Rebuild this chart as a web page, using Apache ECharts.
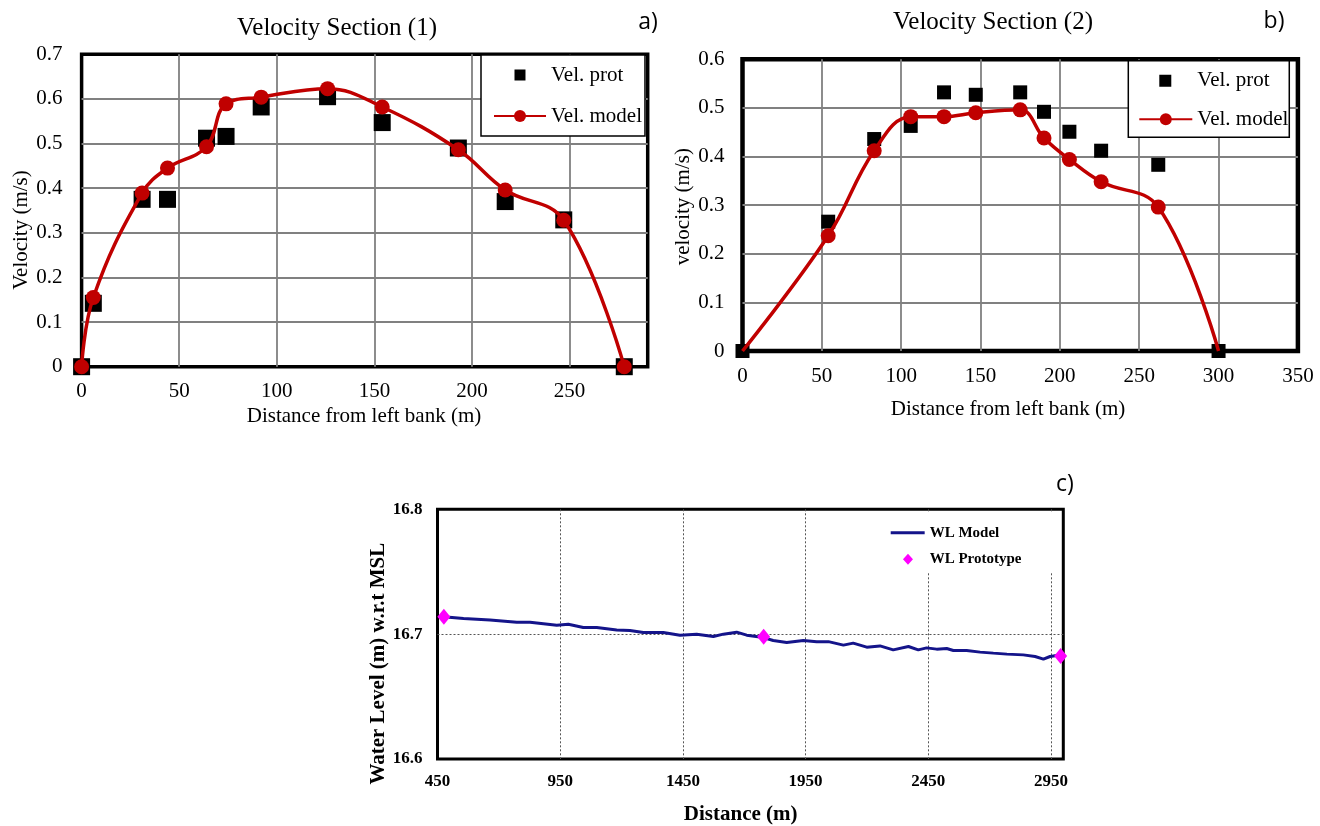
<!DOCTYPE html>
<html>
<head>
<meta charset="utf-8">
<title>Velocity sections and water level</title>
<script src="https://cdn.jsdelivr.net/npm/echarts@6/dist/echarts.min.js"></script>
<style>
  html, body { margin: 0; padding: 0; background: #ffffff; }
  #chart { width: 1320px; height: 826px; }
</style>
</head>
<body>
<div id="chart"></div>
<script>
// ---- Section (1): distance from left bank (m) and velocities (m/s) ----
const distA  = [0, 6, 31, 44, 64, 74, 92, 126, 154, 193, 217, 247, 278];
const protA  = [0, 0.142, 0.375, 0.375, 0.512, 0.516, 0.582, 0.605, 0.547, 0.490, 0.370, 0.329, 0];
const modelA = [0, 0.155, 0.389, 0.445, 0.493, 0.589, 0.604, 0.623, 0.582, 0.486, 0.396, 0.328, 0];

// ---- Section (2) ----
const distB  = [0, 54, 83, 106, 127, 147, 175, 190, 206, 226, 262, 300];
const protB  = [0, 0.266, 0.436, 0.463, 0.532, 0.527, 0.532, 0.492, 0.451, 0.412, 0.383, 0];
const modelB = [0, 0.237, 0.412, 0.482, 0.482, 0.490, 0.496, 0.438, 0.394, 0.348, 0.296, 0];
// model points that carry a circle marker (the bank points do not)
const markedB = [false, true, true, true, true, true, true, true, true, true, true, false];

// ---- Water level along the reach (m w.r.t. MSL) ----
const wlDist = [474, 556, 664, 773, 827, 936, 983, 1044, 1099, 1180, 1234, 1289, 1370, 1438,
                1506, 1574, 1615, 1669, 1710, 1771, 1818, 1873, 1941, 1995, 2043, 2104, 2144,
                2199, 2253, 2307, 2369, 2409, 2443, 2484, 2525, 2552, 2606, 2661, 2715, 2770,
                2837, 2885, 2919, 2946, 2973];
const wlModel = [16.7140, 16.7125, 16.7114, 16.7096, 16.7096, 16.7072, 16.7080, 16.7053, 16.7053,
                 16.7034, 16.7030, 16.7013, 16.7013, 16.6992, 16.7000, 16.6981, 16.7000, 16.7016,
                 16.6992, 16.6976, 16.6949, 16.6933, 16.6949, 16.6940, 16.6940, 16.6912, 16.6928,
                 16.6896, 16.6906, 16.6874, 16.6901, 16.6874, 16.6890, 16.6880, 16.6885, 16.6869,
                 16.6869, 16.6856, 16.6848, 16.6840, 16.6834, 16.6821, 16.6800, 16.6821, 16.6829];
const protoDist  = [476, 1779, 2989];
const protoLevel = [16.714, 16.698, 16.6825];

// ---- axis ranges ----
const axisA = { xMax: 290, xStep: 50, yMax: 0.7, yStep: 0.1 };
const axisB = { xMax: 350, xStep: 50, yMax: 0.6, yStep: 0.1 };
const axisC = { xMin: 450, xMax: 3000, xStep: 500, yMin: 16.6, yMax: 16.8, yStep: 0.1 };

const SERIF = '"Liberation Serif", "Times New Roman", serif';
const RED = '#c00000';
const NAVY = '#14148a';

const pairs = (xs, ys) => xs.map((x, i) => [x, ys[i]]);

function velXAxis(gridIndex, cfg, margin, showMax) {
  return {
    type: 'value', gridIndex, min: 0, max: cfg.xMax, interval: cfg.xStep,
    axisLine: { show: false }, axisTick: { show: false },
    axisLabel: { margin, color: '#000', fontFamily: SERIF, fontSize: 21, showMaxLabel: showMax },
    splitLine: { show: true, showMinLine: false, showMaxLine: false,
                 lineStyle: { color: '#808080', width: 1.8 } }
  };
}
function velYAxis(gridIndex, cfg, margin) {
  return {
    type: 'value', gridIndex, min: 0, max: cfg.yMax, interval: cfg.yStep,
    axisLine: { show: false }, axisTick: { show: false },
    axisLabel: { margin, color: '#000', fontFamily: SERIF, fontSize: 21 },
    splitLine: { show: true, showMinLine: false, showMaxLine: false,
                 lineStyle: { color: '#808080', width: 1.8 } }
  };
}

// legend icon for the prototype squares: square placed inside a box as wide as the line icon
function squareIcon(w, h, side, cx) {
  const x0 = cx - side / 2, y0 = (h - side) / 2;
  return 'path://M0,0h0.01v0.01h-0.01z' +
         'M' + x0 + ',' + y0 + 'h' + side + 'v' + side + 'h-' + side + 'z' +
         'M' + w + ',' + h + 'h0.01v0.01h-0.01z';
}

function text(x, y, str, font, rot) {
  return {
    type: 'text', x, y, rotation: rot || 0, silent: true,
    style: { text: str, font, fill: '#000', textAlign: 'center', textVerticalAlign: 'middle',
             align: 'center', verticalAlign: 'middle' }
  };
}

const option = {
  animation: false,
  backgroundColor: '#ffffff',
  grid: [
    { left: 81.6, top: 54.3, width: 566.1, height: 312.4, show: true,
      borderColor: '#000', borderWidth: 3.5, backgroundColor: '#fff', outerBoundsMode: 'none' },
    { left: 742.5, top: 59.3, width: 555.4, height: 291.7, show: true,
      borderColor: '#000', borderWidth: 4.5, backgroundColor: '#fff', outerBoundsMode: 'none' },
    { left: 437.5, top: 509.3, width: 625.8, height: 249.7, show: true,
      borderColor: '#000', borderWidth: 3, backgroundColor: '#fff', outerBoundsMode: 'none' }
  ],
  xAxis: [
    velXAxis(0, axisA, 14.5, false),
    velXAxis(1, axisB, 15, true),
    {
      type: 'value', gridIndex: 2, min: axisC.xMin, max: axisC.xMax, interval: axisC.xStep,
      axisLine: { show: false }, axisTick: { show: false },
      axisLabel: { margin: 14, color: '#000', fontFamily: SERIF, fontWeight: 'bold', fontSize: 17,
                   showMaxLabel: false, formatter: v => String(v) },
      splitLine: { show: true, showMinLine: false, showMaxLine: false,
                   lineStyle: { color: '#555', width: 1, type: [2, 2] } }
    }
  ],
  yAxis: [
    velYAxis(0, axisA, 19),
    velYAxis(1, axisB, 18),
    {
      type: 'value', gridIndex: 2, min: axisC.yMin, max: axisC.yMax, interval: axisC.yStep,
      axisLine: { show: false }, axisTick: { show: false },
      axisLabel: { margin: 15, color: '#000', fontFamily: SERIF, fontWeight: 'bold', fontSize: 17,
                   formatter: v => v.toFixed(1) },
      splitLine: { show: true, showMinLine: false, showMaxLine: false,
                   lineStyle: { color: '#555', width: 1, type: [2, 2] } }
    }
  ],
  legend: [
    {
      orient: 'vertical', left: 481, top: 55, selectedMode: false,
      padding: [9.5, 3, 9.5, 12], itemGap: 20, itemWidth: 52, itemHeight: 15,
      backgroundColor: '#fff', borderColor: '#000', borderWidth: 1.5,
      textStyle: { color: '#000', fontFamily: SERIF, fontSize: 21 },
      data: [{ name: 'Vel. prot', icon: squareIcon(52, 15, 11, 26) }, { name: 'Vel. model' }]
    },
    {
      orient: 'vertical', left: 1128.3, top: 60.7, selectedMode: false,
      padding: [9.5, 1, 7.5, 10], itemGap: 17.6, itemWidth: 53, itemHeight: 15,
      backgroundColor: '#fff', borderColor: '#000', borderWidth: 1.5,
      textStyle: { color: '#000', fontFamily: SERIF, fontSize: 21 },
      data: [{ name: 'Vel. prot', icon: squareIcon(53, 15, 12, 26) }, { name: 'Vel. model' }]
    },
    {
      orient: 'vertical', left: 880, top: 512, selectedMode: false,
      padding: [13.2, 36, 5.2, 10.7], itemGap: 11.6, itemWidth: 34, itemHeight: 14,
      backgroundColor: '#fff', borderWidth: 0,
      textStyle: { color: '#000', fontFamily: SERIF, fontWeight: 'bold', fontSize: 15 },
      data: [
        { name: 'WL Model',
          icon: 'path://M0,0h0.01v0.01h-0.01zM0,5.5h34v3h-34zM34,14h0.01v0.01h-0.01z' },
        { name: 'WL Prototype',
          icon: 'path://M0,0h0.01v0.01h-0.01zM17.3,1.5L22.3,7L17.3,12.5L12.3,7zM34,14h0.01v0.01h-0.01z' }
      ]
    }
  ],
  series: [
    // Section (1)
    { name: 'Vel. prot', type: 'scatter', xAxisIndex: 0, yAxisIndex: 0,
      symbol: 'rect', symbolSize: 17, itemStyle: { color: '#000', opacity: 1 }, z: 3,
      data: pairs(distA, protA) },
    { name: 'Vel. model', type: 'line', xAxisIndex: 0, yAxisIndex: 0, smooth: 0.4,
      symbol: 'circle', symbolSize: 15, showAllSymbol: true, z: 4,
      itemStyle: { color: RED, opacity: 1 }, lineStyle: { color: RED, width: 3.5 },
      data: pairs(distA, modelA) },
    // Section (2)
    { name: 'Vel. prot', type: 'scatter', xAxisIndex: 1, yAxisIndex: 1,
      symbol: 'rect', symbolSize: 14, itemStyle: { color: '#000', opacity: 1 }, z: 3,
      data: pairs(distB, protB) },
    { name: 'Vel. model', type: 'line', xAxisIndex: 1, yAxisIndex: 1, smooth: 0.4,
      symbol: 'circle', symbolSize: 15, showAllSymbol: true, z: 4,
      itemStyle: { color: RED, opacity: 1 }, lineStyle: { color: RED, width: 3.5 },
      data: distB.map((x, i) => markedB[i] ? { value: [x, modelB[i]] }
                                           : { value: [x, modelB[i]], symbol: 'none' }) },
    // Water level
    { name: 'WL Model', type: 'line', xAxisIndex: 2, yAxisIndex: 2, smooth: false,
      symbol: 'none', z: 3,
      itemStyle: { color: NAVY }, lineStyle: { color: NAVY, width: 3 },
      data: pairs(wlDist, wlModel) },
    { name: 'WL Prototype', type: 'scatter', xAxisIndex: 2, yAxisIndex: 2,
      symbol: 'diamond', symbolSize: [13, 16], z: 4, itemStyle: { color: '#ff00ff', opacity: 1 },
      data: pairs(protoDist, protoLevel) }
  ],
  graphic: [
    text(337, 28.3, 'Velocity Section (1)', '25px ' + SERIF),
    text(993, 22.7, 'Velocity Section (2)', '25px ' + SERIF),
    text(648, 22, 'a)', '23px "Open Sans", "Noto Sans", sans-serif'),
    text(1274, 21.7, 'b)', '23px "Open Sans", "Noto Sans", sans-serif'),
    text(1065, 484, 'c)', '23px "Open Sans", "Noto Sans", sans-serif'),
    text(364, 416.7, 'Distance from left bank (m)', '21px ' + SERIF),
    text(21, 230, 'Velocity (m/s)', '21px ' + SERIF, Math.PI / 2),
    text(1008, 409.3, 'Distance from left bank (m)', '21px ' + SERIF),
    text(683, 206.7, 'velocity (m/s)', '21px ' + SERIF, Math.PI / 2),
    text(740.7, 815, 'Distance (m)', 'bold 21px ' + SERIF),
    text(379, 663.7, 'Water Level (m) w.r.t MSL', 'bold 21px ' + SERIF, Math.PI / 2)
  ]
};

const chart = echarts.init(document.getElementById('chart'), null, { renderer: 'canvas' });
chart.setOption(option);
</script>
</body>
</html>
